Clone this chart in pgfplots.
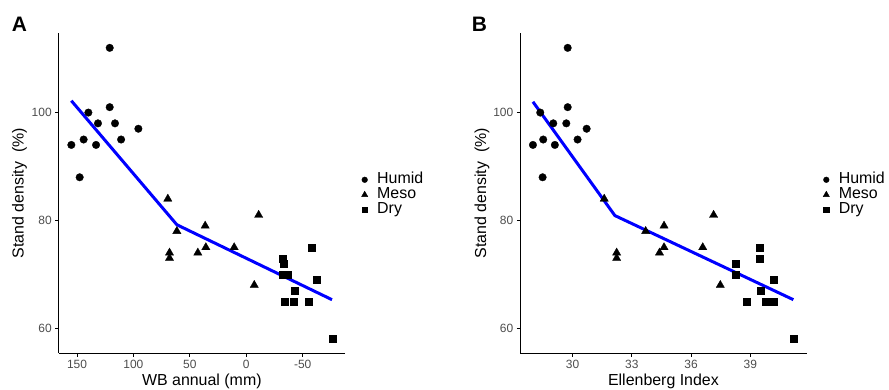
\documentclass[border=0pt]{standalone}
\usepackage{fontspec}
\setmainfont{Liberation Sans}
\usepackage{pgfplots}
\pgfplotsset{compat=1.18}
\definecolor{tickgray}{HTML}{4D4D4D}
\definecolor{lineblue}{RGB}{0,0,255}
\pgfplotsset{
  panel/.style={
    scale only axis, width=286.3bp, height=320bp,
    axis x line*=bottom, axis y line*=left,
    axis line style={black, line width=0.8bp, -},
    tick align=outside, major tick length=3.5bp,
    every tick/.style={black, line width=0.8bp},
    ymin=55.36, ymax=114.7, ytick={60,80,100},
    ticklabel style={font=\fontsize{12}{14}\selectfont, text=tickgray},
    /pgf/number format/assume math mode=true,
    label style={font=\fontsize{16}{19}\selectfont},
    ylabel={Stand density\ \ (\%)},
    xlabel style={at={(axis description cs:0.5,0)}, anchor=base, yshift=-31.7bp},
    ylabel style={at={(axis description cs:0,0.5)}, anchor=base, yshift=35bp},
    clip=false,
    legend style={at={(axis description cs:1,0.5)}, anchor=west, xshift=14.5bp, yshift=-1.5bp,
      draw=none, fill=none, font=\fontsize{16}{16}\selectfont, row sep=0bp,
      inner sep=0pt, nodes={inner sep=0.5bp, text height=10.5bp, text depth=3.5bp}},
    legend cell align=left,
    legend image code/.code={\path[draw=none,fill=none] (0bp,0bp) -- (17bp,0bp);
      \draw[mark repeat=2,mark phase=2,#1, every mark/.append style={scale=0.76}] plot coordinates {(0bp,0bp)(5bp,0bp)(10bp,0bp)};},
  },
  humid/.style={only marks, mark=*, mark size=3.8bp, mark options={fill=black, draw=black, line width=0.3bp}},
  meso/.style={only marks, mark=triangle*, mark size=4.8bp, mark options={fill=black, draw=black, line width=0.3bp}},
  dry/.style={only marks, mark=square*, mark size=3.5bp, mark options={fill=black, draw=black, line width=0.3bp}},
  fitline/.style={lineblue, line width=3bp, no marks},
}
\begin{document}
\begin{tikzpicture}
\useasboundingbox (0bp,0bp) rectangle (889bp,390bp);
\node[anchor=base west, font=\fontsize{21}{21}\selectfont\bfseries, inner sep=0pt] at (11.7bp,358.3bp) {A};
\node[anchor=base west, font=\fontsize{21}{21}\selectfont\bfseries, inner sep=0pt] at (471.7bp,358.3bp) {B};
\begin{axis}[panel, at={(58.7bp,36.7bp)}, anchor=south west,
  x dir=reverse, xmin=-87.5, xmax=166.2, xtick={150,100,50,0,-50},
  xlabel={WB annual (mm)}]
\addplot[humid] coordinates {(155,94) (147.6,88) (144.1,95) (139.9,100) (131.4,98) (133.1,94) (121,112) (121,101) (116.3,98) (110.9,95) (95.6,97)};
\addlegendentry{Humid}
\addplot[meso] coordinates {(69.5,84) (68,74) (68,73) (61.5,78) (42.9,74) (36.4,79) (35.8,75) (10.7,75) (-11,81) (-7.1,68)};
\addlegendentry{Meso}
\addplot[dry] coordinates {(-32.5,73) (-33.1,72) (-32.5,70) (-36.7,70) (-34,65) (-42.3,65) (-43.2,67) (-55.3,65) (-58.3,75) (-62.7,69) (-76.3,58)};
\addlegendentry{Dry}
\addplot[fitline, forget plot] coordinates {(155,102.2) (61.5,79.2) (-76,65.3)};
\end{axis}
\begin{axis}[panel, at={(520.3bp,36.7bp)}, anchor=south west,
  xmin=27.35, xmax=41.85, xtick={30,33,36,39},
  xlabel={Ellenberg Index}, ylabel style={yshift=-0.7bp}]
\addplot[humid] coordinates {(27.99,94) (28.48,88) (28.51,95) (28.36,100) (29.02,98) (29.1,94) (29.75,112) (29.75,101) (29.68,98) (30.25,95) (30.71,97)};
\addlegendentry{Humid}
\addplot[meso] coordinates {(31.6,84) (32.23,74) (32.23,73) (33.7,78) (34.4,74) (34.63,79) (34.63,75) (36.59,75) (37.14,81) (37.48,68)};
\addlegendentry{Meso}
\addplot[dry] coordinates {(38.27,72) (38.27,70) (38.81,65) (39.46,75) (39.46,73) (39.51,67) (39.79,65) (40.17,65) (40.17,69) (41.2,58)};
\addlegendentry{Dry}
\addplot[fitline, forget plot] coordinates {(27.99,102.0) (32.14,80.9) (41.18,65.3)};
\end{axis}
\end{tikzpicture}
\end{document}
